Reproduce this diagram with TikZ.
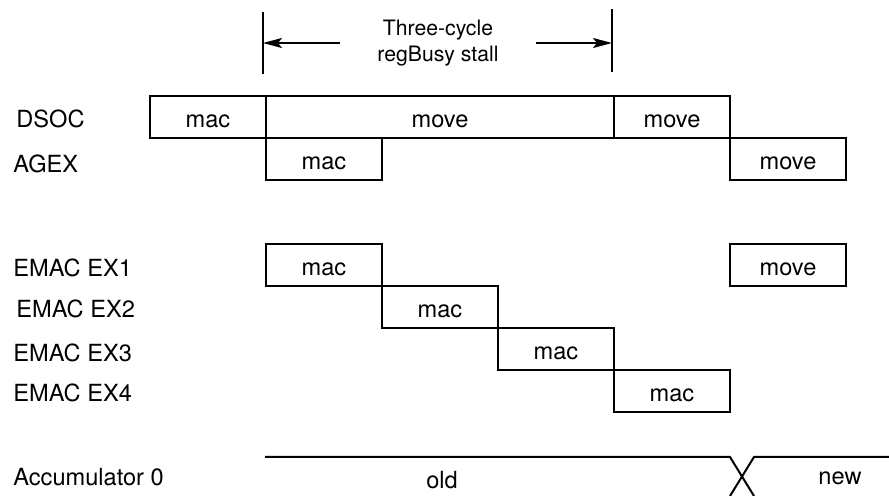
\documentclass[tikz,border=0pt]{standalone}
\usepackage{fontspec}
\setmainfont{TeX Gyre Heros}
\usetikzlibrary{arrows.meta}
\begin{document}
\begin{tikzpicture}[
x=0.5pt,y=-0.5pt,
font=\fontsize{11.8pt}{14pt}\selectfont,
slot/.style = {draw,line width=1pt,minimum width=58pt,minimum height=21pt,inner sep=0pt,text height=10.5pt,text depth=0pt},
lbl/.style = {anchor=base west,inner sep=0pt},
wire/.style = {draw,line width=1pt},
arr/.style = {draw,line width=1pt,-{Stealth[length=9.5pt,width=5pt,inset=2pt]}}
]
  \useasboundingbox (0,0) rectangle (889,496);

  % stall markers
  \coordinate (tl) at (263,12);
  \coordinate (bl) at (263,74);
  \coordinate (tr) at (612,9);
  \coordinate (br) at (612,72);
  \path[wire] (tl)--(bl);
  \path[wire] (tr)--(br);
  \node[align=center,inner sep=0pt,minimum width=98pt,font=\fontsize{10.6pt}{13pt}\selectfont] (stall) at (438,43) {Three-cycle\\regBusy stall};
  \path[arr] (stall.west)--(stall.west -| tl);
  \path[arr] (stall.east)--(stall.east -| tr);

  % row names
  \node[lbl] (dsoc) at (16,128) {DSOC};
  \node[lbl] (agex) at (13,173) {AGEX};
  \node[lbl] (ex1) at (13,277) {EMAC EX1};
  \node[lbl] (ex2) at (16,318) {EMAC EX2};
  \node[lbl] (ex3) at (13,362) {EMAC EX3};
  \node[lbl] (ex4) at (13,402) {EMAC EX4};
  \node[lbl] (acc) at (13,486) {Accumulator 0};

  % pipeline slots
  \node[slot] (dsocA) at (208,117) {mac};
  \node[slot,minimum width=174pt] (dsocB) at (440,117) {move};
  \node[slot] (dsocC) at (672,117) {move};
  \node[slot] (agexA) at (324,159) {mac};
  \node[slot] (agexB) at (788,159) {move};
  \node[slot] (exA) at (324,265) {mac};
  \node[slot] (exB) at (788,265) {move};
  \node[slot] (exC) at (440,307) {mac};
  \node[slot] (exD) at (556,349) {mac};
  \node[slot] (exE) at (672,391) {mac};

  % accumulator value
  \coordinate (a0) at (265,457);
  \coordinate (x1) at (730,457);
  \coordinate (x2) at (754,457);
  \coordinate (x3) at (730,496);
  \coordinate (x4) at (754,496);
  \coordinate (a1) at (889,457);
  \path[wire] (a0)--(x1)--(x4);
  \path[wire] (x3)--(x2)--(a1);
  \node[anchor=base,inner sep=0pt] (old) at (442,488) {old};
  \node[anchor=base,inner sep=0pt] (new) at (840,485) {new};

\end{tikzpicture}
\end{document}
